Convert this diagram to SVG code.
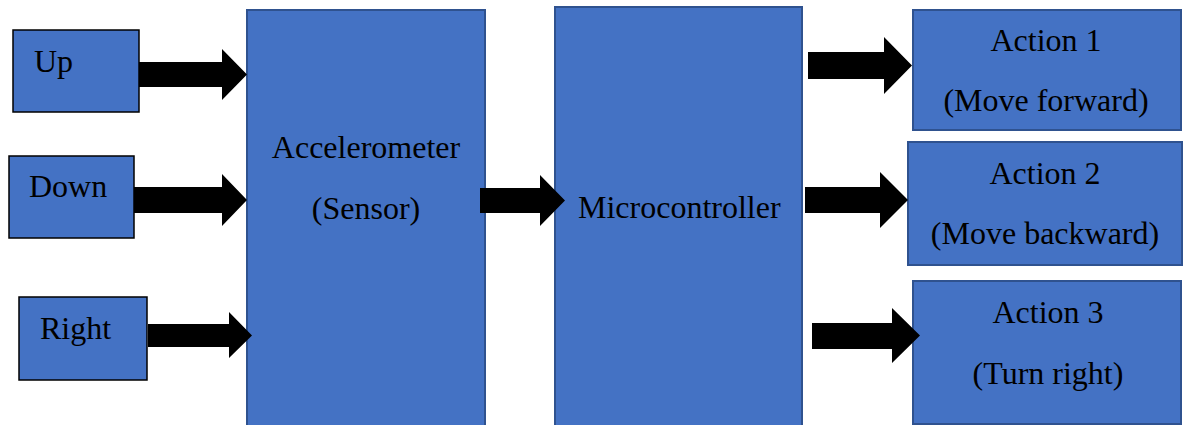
<svg xmlns="http://www.w3.org/2000/svg" width="1184" height="425" viewBox="0 0 1184 425">
  <defs>
    <style>
      .box { fill: #4472C4; stroke: #2F528F; stroke-width: 2; }
      .input { fill: #4472C4; stroke: #000; stroke-width: 1.5; }
      .label { font-family: "Liberation Serif", "Times New Roman", serif; font-size: 32px; fill: #000; }
      .mid { text-anchor: middle; }
      .arrow { fill: #000; }
    </style>
  </defs>
  <rect width="1184" height="425" fill="#fff"/>

  <g id="node-up">
    <rect class="input" x="13" y="30" width="126" height="82"/>
    <text class="label" x="34" y="72">Up</text>
  </g>
  <g id="node-down">
    <rect class="input" x="9" y="156" width="125" height="82"/>
    <text class="label" x="29" y="197">Down</text>
  </g>
  <g id="node-right">
    <rect class="input" x="19" y="297" width="128" height="83"/>
    <text class="label" x="40" y="339">Right</text>
  </g>
  <g id="node-accelerometer">
    <rect class="box" x="247" y="10" width="238" height="420"/>
    <text class="label mid" x="366" y="158">Accelerometer</text>
    <text class="label mid" x="366" y="219">(Sensor)</text>
  </g>
  <g id="node-microcontroller">
    <rect class="box" x="555" y="7" width="247" height="423"/>
    <text class="label" x="578" y="218">Microcontroller</text>
  </g>
  <g id="node-action1">
    <rect class="box" x="913" y="10" width="268" height="120"/>
    <text class="label mid" x="1046" y="51">Action 1</text>
    <text class="label mid" x="1046" y="111">(Move forward)</text>
  </g>
  <g id="node-action2">
    <rect class="box" x="908" y="142" width="274" height="123"/>
    <text class="label mid" x="1045" y="184">Action 2</text>
    <text class="label mid" x="1045" y="244">(Move backward)</text>
  </g>
  <g id="node-action3">
    <rect class="box" x="913" y="281" width="268" height="143"/>
    <text class="label mid" x="1048" y="323">Action 3</text>
    <text class="label mid" x="1048" y="384">(Turn right)</text>
  </g>

  <g id="connectors">
    <!-- block arrows: shaft then triangular head -->
    <polygon class="arrow" points="139,62 222,62 222,49 247,74.5 222,100 222,87 139,87"/>
    <polygon class="arrow" points="134,187 222,187 222,174 247,200 222,226 222,213 134,213"/>
    <polygon class="arrow" points="148,324 229,324 229,312 252,335.5 229,358 229,347 148,347"/>
    <polygon class="arrow" points="480,188 540,188 540,175 565,200.5 540,226 540,213 480,213"/>
    <polygon class="arrow" points="808,52 884,52 884,37 912,65.5 884,94 884,79 808,79"/>
    <polygon class="arrow" points="805,187 880,187 880,172 908,200 880,228 880,213 805,213"/>
    <polygon class="arrow" points="812,323 892,323 892,308 920,335.5 892,363 892,349 812,349"/>
  </g>
</svg>
